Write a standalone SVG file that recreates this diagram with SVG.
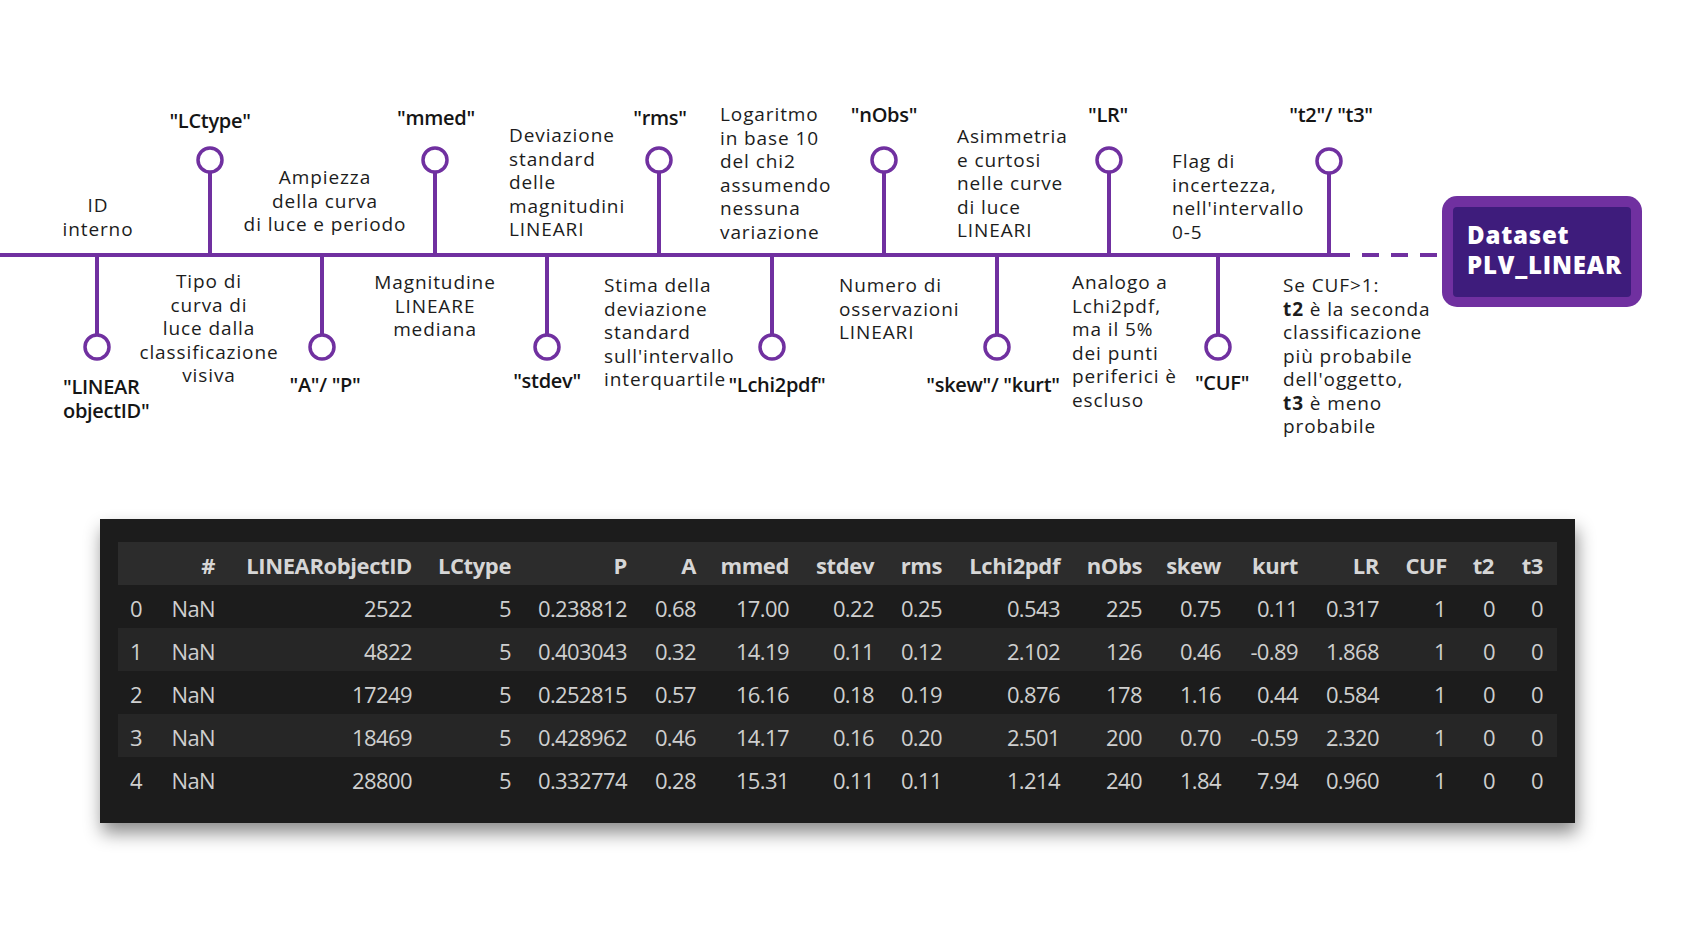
<svg xmlns="http://www.w3.org/2000/svg" width="1708" height="952" viewBox="0 0 1708 952">
  <style>
    .axis { stroke: #7030A0; stroke-width: 4; fill: none; }
    .stem { stroke: #7030A0; stroke-width: 4; }
    .knob { fill: #ffffff; stroke: #7030A0; stroke-width: 3.5; }
    .key { font-family: "Open Sans", "DejaVu Sans", sans-serif; font-size: 20px; font-weight: 600; letter-spacing: -0.3px; fill: #151515; }
    .desc { font-family: "Open Sans", "DejaVu Sans", sans-serif; font-size: 19px; letter-spacing: 0.9px; fill: #1c1c1c; }
    .mid { text-anchor: middle; }
    .b { font-weight: 700; }
    .title { font-family: "Open Sans", "DejaVu Sans", sans-serif; font-size: 24px; font-weight: 800; letter-spacing: 0.8px; fill: #ffffff; }
    .th { font-family: "Open Sans", "Liberation Sans", sans-serif; font-size: 22px; font-weight: 700; letter-spacing: -0.4px; fill: #d6d6d6; text-anchor: end; }
    .td { font-family: "Open Sans", "Liberation Sans", sans-serif; font-size: 22px; letter-spacing: -0.6px; fill: #cfcfcf; text-anchor: end; }
    .idx { text-anchor: start; }
  </style>
  <defs>
    <filter id="panelShadow" x="-5%" y="-15%" width="110%" height="140%">
      <feDropShadow dx="2" dy="10" stdDeviation="9" flood-color="#000000" flood-opacity="0.45"/>
    </filter>
  </defs>

  <rect width="1708" height="952" fill="#ffffff"/>

  <!-- timeline axis, stems and trailing dashes -->
  <g id="connectors">
    <line class="axis" x1="0" y1="255" x2="1350" y2="255"/>
    <line class="axis" x1="1362" y1="255" x2="1437" y2="255" stroke-dasharray="17 12"/>
    <line class="stem" x1="97" y1="255" x2="97" y2="335"/>
    <line class="stem" x1="210" y1="172" x2="210" y2="255"/>
    <line class="stem" x1="322" y1="255" x2="322" y2="335"/>
    <line class="stem" x1="435" y1="172" x2="435" y2="255"/>
    <line class="stem" x1="547" y1="255" x2="547" y2="335"/>
    <line class="stem" x1="659" y1="172" x2="659" y2="255"/>
    <line class="stem" x1="772" y1="255" x2="772" y2="335"/>
    <line class="stem" x1="884" y1="172" x2="884" y2="255"/>
    <line class="stem" x1="997" y1="255" x2="997" y2="335"/>
    <line class="stem" x1="1109" y1="172" x2="1109" y2="255"/>
    <line class="stem" x1="1218" y1="255" x2="1218" y2="335"/>
    <line class="stem" x1="1329" y1="173" x2="1329" y2="255"/>
  </g>

  <g id="node-linear-objectid">
    <circle class="knob" cx="97" cy="347" r="12"/>
    <text class="key" x="63" y="394">"LINEAR</text>
    <text class="key" x="63" y="418">objectID"</text>
    <text class="desc mid" x="98" y="212">ID</text>
    <text class="desc mid" x="98" y="236">interno</text>
  </g>

  <g id="node-lctype">
    <circle class="knob" cx="210" cy="160" r="12"/>
    <text class="key mid" x="210" y="128">"LCtype"</text>
    <text class="desc mid" x="209" y="288">Tipo di</text>
    <text class="desc mid" x="209" y="311.5">curva di</text>
    <text class="desc mid" x="209" y="335">luce dalla</text>
    <text class="desc mid" x="209" y="358.5">classificazione</text>
    <text class="desc mid" x="209" y="382">visiva</text>
  </g>

  <g id="node-a-p">
    <circle class="knob" cx="322" cy="347" r="12"/>
    <text class="key mid" x="325" y="392">"A"/ "P"</text>
    <text class="desc mid" x="325" y="184">Ampiezza</text>
    <text class="desc mid" x="325" y="207.5">della curva</text>
    <text class="desc mid" x="325" y="231">di luce e periodo</text>
  </g>

  <g id="node-mmed">
    <circle class="knob" cx="435" cy="160" r="12"/>
    <text class="key mid" x="436" y="125">"mmed"</text>
    <text class="desc mid" x="435" y="289">Magnitudine</text>
    <text class="desc mid" x="435" y="312.5">LINEARE</text>
    <text class="desc mid" x="435" y="336">mediana</text>
  </g>

  <g id="node-stdev">
    <circle class="knob" cx="547" cy="347" r="12"/>
    <text class="key mid" x="547" y="388">"stdev"</text>
    <text class="desc" x="509" y="142">Deviazione</text>
    <text class="desc" x="509" y="165.5">standard</text>
    <text class="desc" x="509" y="189">delle</text>
    <text class="desc" x="509" y="212.5">magnitudini</text>
    <text class="desc" x="509" y="236">LINEARI</text>
  </g>

  <g id="node-rms">
    <circle class="knob" cx="659" cy="160" r="12"/>
    <text class="key mid" x="660" y="125">"rms"</text>
    <text class="desc" x="604" y="292">Stima della</text>
    <text class="desc" x="604" y="315.5">deviazione</text>
    <text class="desc" x="604" y="339">standard</text>
    <text class="desc" x="604" y="362.5">sull'intervallo</text>
    <text class="desc" x="604" y="386">interquartile</text>
  </g>

  <g id="node-lchi2pdf">
    <circle class="knob" cx="772" cy="347" r="12"/>
    <text class="key mid" x="777" y="392">"Lchi2pdf"</text>
    <text class="desc" x="720" y="121">Logaritmo</text>
    <text class="desc" x="720" y="144.5">in base 10</text>
    <text class="desc" x="720" y="168">del chi2</text>
    <text class="desc" x="720" y="191.5">assumendo</text>
    <text class="desc" x="720" y="215">nessuna</text>
    <text class="desc" x="720" y="238.5">variazione</text>
  </g>

  <g id="node-nobs">
    <circle class="knob" cx="884" cy="160" r="12"/>
    <text class="key mid" x="884" y="122">"nObs"</text>
    <text class="desc" x="839" y="292">Numero di</text>
    <text class="desc" x="839" y="315.5">osservazioni</text>
    <text class="desc" x="839" y="339">LINEARI</text>
  </g>

  <g id="node-skew-kurt">
    <circle class="knob" cx="997" cy="347" r="12"/>
    <text class="key mid" x="993" y="392">"skew"/ "kurt"</text>
    <text class="desc" x="957" y="143">Asimmetria</text>
    <text class="desc" x="957" y="166.5">e curtosi</text>
    <text class="desc" x="957" y="190">nelle curve</text>
    <text class="desc" x="957" y="213.5">di luce</text>
    <text class="desc" x="957" y="237">LINEARI</text>
  </g>

  <g id="node-lr">
    <circle class="knob" cx="1109" cy="160" r="12"/>
    <text class="key mid" x="1108" y="122">"LR"</text>
    <text class="desc" x="1072" y="289">Analogo a</text>
    <text class="desc" x="1072" y="312.5">Lchi2pdf,</text>
    <text class="desc" x="1072" y="336">ma il 5%</text>
    <text class="desc" x="1072" y="359.5">dei punti</text>
    <text class="desc" x="1072" y="383">periferici è</text>
    <text class="desc" x="1072" y="406.5">escluso</text>
  </g>

  <g id="node-cuf">
    <circle class="knob" cx="1218" cy="347" r="12"/>
    <text class="key mid" x="1222" y="390">"CUF"</text>
    <text class="desc" x="1172" y="168">Flag di</text>
    <text class="desc" x="1172" y="191.5">incertezza,</text>
    <text class="desc" x="1172" y="215">nell'intervallo</text>
    <text class="desc" x="1172" y="238.5">0-5</text>
  </g>

  <g id="node-t2-t3">
    <circle class="knob" cx="1329" cy="161" r="12"/>
    <text class="key mid" x="1331" y="122">"t2"/ "t3"</text>
    <text class="desc" x="1283" y="292">Se CUF&gt;1:</text>
    <text class="desc" x="1283" y="315.5"><tspan class="b">t2</tspan> è la seconda</text>
    <text class="desc" x="1283" y="339">classificazione</text>
    <text class="desc" x="1283" y="362.5">più probabile</text>
    <text class="desc" x="1283" y="386">dell'oggetto,</text>
    <text class="desc" x="1283" y="409.5"><tspan class="b">t3</tspan> è meno</text>
    <text class="desc" x="1283" y="433">probabile</text>
  </g>

  <g id="node-dataset">
    <rect x="1442" y="196" width="200" height="111" rx="15" fill="#7030A0"/>
    <rect x="1453" y="207" width="178" height="90" rx="4" fill="#3E1C7C"/>
    <text class="title" x="1467" y="244">Dataset</text>
    <text class="title" x="1467" y="274">PLV_LINEAR</text>
  </g>

  <!-- dataframe preview panel -->
  <g id="table">
    <rect x="100" y="519" width="1475" height="304" fill="#1e1e1e" filter="url(#panelShadow)"/>
    <rect x="118" y="542" width="1439" height="43" fill="#2c2c2c"/>
    <rect x="118" y="628" width="1439" height="43" fill="#262626"/>
    <rect x="118" y="714" width="1439" height="43" fill="#262626"/>

    <g id="table-header">
      <text class="th" x="215" y="574">#</text>
      <text class="th" x="412" y="574">LINEARobjectID</text>
      <text class="th" x="511" y="574">LCtype</text>
      <text class="th" x="627" y="574">P</text>
      <text class="th" x="696" y="574">A</text>
      <text class="th" x="789" y="574">mmed</text>
      <text class="th" x="874" y="574">stdev</text>
      <text class="th" x="942" y="574">rms</text>
      <text class="th" x="1060" y="574">Lchi2pdf</text>
      <text class="th" x="1142" y="574">nObs</text>
      <text class="th" x="1221" y="574">skew</text>
      <text class="th" x="1298" y="574">kurt</text>
      <text class="th" x="1379" y="574">LR</text>
      <text class="th" x="1447" y="574">CUF</text>
      <text class="th" x="1494" y="574">t2</text>
      <text class="th" x="1543" y="574">t3</text>
    </g>

    <g id="row-0">
      <text class="td idx" x="130" y="617">0</text>
      <text class="td" x="215" y="617">NaN</text>
      <text class="td" x="412" y="617">2522</text>
      <text class="td" x="511" y="617">5</text>
      <text class="td" x="627" y="617">0.238812</text>
      <text class="td" x="696" y="617">0.68</text>
      <text class="td" x="789" y="617">17.00</text>
      <text class="td" x="874" y="617">0.22</text>
      <text class="td" x="942" y="617">0.25</text>
      <text class="td" x="1060" y="617">0.543</text>
      <text class="td" x="1142" y="617">225</text>
      <text class="td" x="1221" y="617">0.75</text>
      <text class="td" x="1298" y="617">0.11</text>
      <text class="td" x="1379" y="617">0.317</text>
      <text class="td" x="1446" y="617">1</text>
      <text class="td" x="1495" y="617">0</text>
      <text class="td" x="1543" y="617">0</text>
    </g>

    <g id="row-1">
      <text class="td idx" x="130" y="660">1</text>
      <text class="td" x="215" y="660">NaN</text>
      <text class="td" x="412" y="660">4822</text>
      <text class="td" x="511" y="660">5</text>
      <text class="td" x="627" y="660">0.403043</text>
      <text class="td" x="696" y="660">0.32</text>
      <text class="td" x="789" y="660">14.19</text>
      <text class="td" x="874" y="660">0.11</text>
      <text class="td" x="942" y="660">0.12</text>
      <text class="td" x="1060" y="660">2.102</text>
      <text class="td" x="1142" y="660">126</text>
      <text class="td" x="1221" y="660">0.46</text>
      <text class="td" x="1298" y="660">-0.89</text>
      <text class="td" x="1379" y="660">1.868</text>
      <text class="td" x="1446" y="660">1</text>
      <text class="td" x="1495" y="660">0</text>
      <text class="td" x="1543" y="660">0</text>
    </g>

    <g id="row-2">
      <text class="td idx" x="130" y="703">2</text>
      <text class="td" x="215" y="703">NaN</text>
      <text class="td" x="412" y="703">17249</text>
      <text class="td" x="511" y="703">5</text>
      <text class="td" x="627" y="703">0.252815</text>
      <text class="td" x="696" y="703">0.57</text>
      <text class="td" x="789" y="703">16.16</text>
      <text class="td" x="874" y="703">0.18</text>
      <text class="td" x="942" y="703">0.19</text>
      <text class="td" x="1060" y="703">0.876</text>
      <text class="td" x="1142" y="703">178</text>
      <text class="td" x="1221" y="703">1.16</text>
      <text class="td" x="1298" y="703">0.44</text>
      <text class="td" x="1379" y="703">0.584</text>
      <text class="td" x="1446" y="703">1</text>
      <text class="td" x="1495" y="703">0</text>
      <text class="td" x="1543" y="703">0</text>
    </g>

    <g id="row-3">
      <text class="td idx" x="130" y="746">3</text>
      <text class="td" x="215" y="746">NaN</text>
      <text class="td" x="412" y="746">18469</text>
      <text class="td" x="511" y="746">5</text>
      <text class="td" x="627" y="746">0.428962</text>
      <text class="td" x="696" y="746">0.46</text>
      <text class="td" x="789" y="746">14.17</text>
      <text class="td" x="874" y="746">0.16</text>
      <text class="td" x="942" y="746">0.20</text>
      <text class="td" x="1060" y="746">2.501</text>
      <text class="td" x="1142" y="746">200</text>
      <text class="td" x="1221" y="746">0.70</text>
      <text class="td" x="1298" y="746">-0.59</text>
      <text class="td" x="1379" y="746">2.320</text>
      <text class="td" x="1446" y="746">1</text>
      <text class="td" x="1495" y="746">0</text>
      <text class="td" x="1543" y="746">0</text>
    </g>

    <g id="row-4">
      <text class="td idx" x="130" y="789">4</text>
      <text class="td" x="215" y="789">NaN</text>
      <text class="td" x="412" y="789">28800</text>
      <text class="td" x="511" y="789">5</text>
      <text class="td" x="627" y="789">0.332774</text>
      <text class="td" x="696" y="789">0.28</text>
      <text class="td" x="789" y="789">15.31</text>
      <text class="td" x="874" y="789">0.11</text>
      <text class="td" x="942" y="789">0.11</text>
      <text class="td" x="1060" y="789">1.214</text>
      <text class="td" x="1142" y="789">240</text>
      <text class="td" x="1221" y="789">1.84</text>
      <text class="td" x="1298" y="789">7.94</text>
      <text class="td" x="1379" y="789">0.960</text>
      <text class="td" x="1446" y="789">1</text>
      <text class="td" x="1495" y="789">0</text>
      <text class="td" x="1543" y="789">0</text>
    </g>
  </g>
</svg>
